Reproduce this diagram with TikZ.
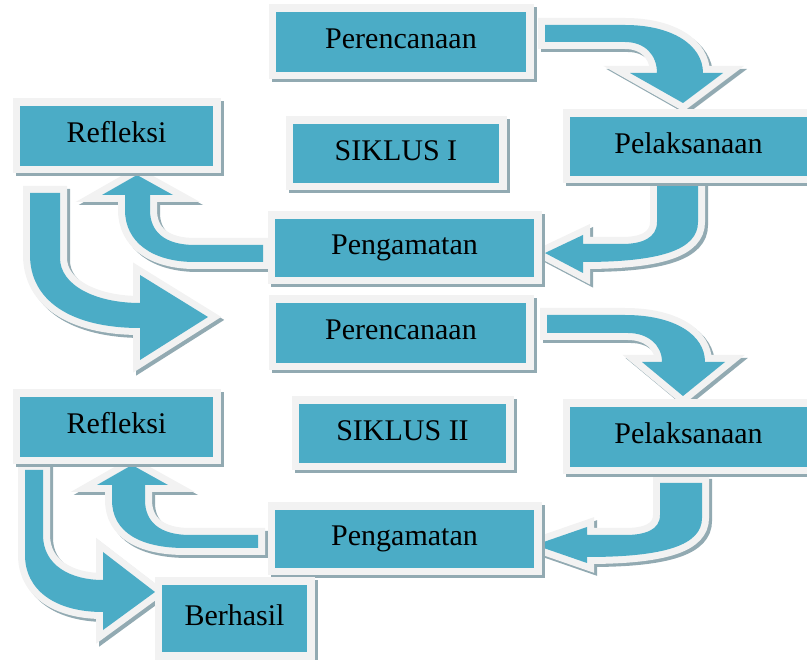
\documentclass[tikz,border=0pt]{standalone}
\usepackage{fontspec}
\setmainfont{Liberation Serif}
\usetikzlibrary{backgrounds}
\definecolor{boxblue}{RGB}{75,172,198}
\definecolor{framegray}{RGB}{242,242,242}
\definecolor{shadegray}{RGB}{146,170,178}
\tikzset{
  stepbox/.style={rectangle, draw=framegray, fill=boxblue, line width=7.5pt,
    inner sep=0pt, text height=20pt, text depth=6pt,
    font=\fontsize{30}{36}\selectfont,
    preaction={draw=shadegray, fill=shadegray, line width=7.5pt,
      transform canvas={xshift=3pt,yshift=-3pt}}},
  blockarrow/.style={line join=miter, miter limit=10,
    preaction={draw=shadegray, fill=shadegray, line width=14pt, line join=miter,
      transform canvas={xshift=3pt,yshift=-3pt}},
    preaction={draw=framegray, line width=14pt, line join=miter},
    fill=boxblue}
}
\begin{document}
\begin{tikzpicture}[x=1pt,y=-1pt]
\useasboundingbox (0,0) rectangle (807,660);
% boxes
\node[stepbox, minimum width=257.5pt, minimum height=67.5pt] (p1) at (401,42) {Perencanaan};
\node[stepbox, minimum width=244.5pt, minimum height=66.5pt] (l1) at (688.5,146.5) {Pelaksanaan};
\node[stepbox, minimum width=200.5pt, minimum height=67.5pt] (r1) at (116.5,136) {Refleksi};
\node[stepbox, minimum width=213.5pt, minimum height=66.5pt] (s1) at (396,153.5) {SIKLUS I};
\node[stepbox, minimum width=266.5pt, minimum height=65.5pt] (g1) at (404.5,248) {Pengamatan};
\node[stepbox, minimum width=257.5pt, minimum height=67.5pt] (p2) at (401,333) {Perencanaan};
\node[stepbox, minimum width=244.5pt, minimum height=67.5pt] (l2) at (688.5,437) {Pelaksanaan};
\node[stepbox, minimum width=200.5pt, minimum height=67.5pt] (r2) at (116.5,427) {Refleksi};
\node[stepbox, minimum width=214.5pt, minimum height=66.5pt] (s2) at (402.5,433.5) {SIKLUS II};
\node[stepbox, minimum width=266.5pt, minimum height=65.5pt] (g2) at (404.5,539) {Pengamatan};
\node[stepbox, minimum width=152.5pt, minimum height=74.5pt] (b) at (234.5,618.5) {Berhasil};
% block arrows
\begin{scope}[on background layer]
% Perencanaan I -> Pelaksanaan I
\path[blockarrow] (545,25) -- (625,25) .. controls (672,25) and (703,45) .. (703,73)
  -- (723,73) -- (683,103) -- (630,73) -- (657,73)
  .. controls (657,55) and (645,42) .. (625,42) -- (545,42) -- cycle;
% Pelaksanaan I -> Pengamatan I
\path[blockarrow] (657,183) -- (657,222) .. controls (657,238) and (642,244) .. (622,244)
  -- (583,244) -- (583,235) -- (545,253) -- (583,273) -- (583,262)
  .. controls (660,262) and (698,250) .. (698,222) -- (698,183) -- cycle;
% Pengamatan I -> Refleksi I
\path[blockarrow] (263,245) -- (195,245) .. controls (165,245) and (150,232) .. (150,210)
  -- (150,195) -- (173,195) -- (137,175) -- (102,195) -- (125,195) -- (125,210)
  .. controls (125,242) and (152,262) .. (195,262) -- (263,262) -- cycle;
% Refleksi I -> Perencanaan II
\path[blockarrow] (30,193) -- (60,193) -- (60,258) .. controls (60,285) and (95,303) .. (140,303)
  -- (140,275) -- (208,317) -- (140,360) -- (140,328)
  .. controls (70,328) and (30,300) .. (30,255) -- cycle;
% Perencanaan II -> Pelaksanaan II
\path[blockarrow] (547,315) -- (625,315) .. controls (675,315) and (705,335) .. (705,362)
  -- (725,362) -- (683,396) -- (642,362) -- (662,362)
  .. controls (662,345) and (648,333) .. (628,333) -- (547,333) -- cycle;
% Pelaksanaan II -> Pengamatan II
\path[blockarrow] (660,483) -- (660,515) .. controls (660,530) and (645,535) .. (625,535)
  -- (587,535) -- (587,527) -- (535,545) -- (587,563) -- (587,557)
  .. controls (665,557) and (702,545) .. (702,518) -- (702,483) -- cycle;
% Pengamatan II -> Refleksi II
\path[blockarrow] (258,535) -- (190,535) .. controls (160,535) and (145,522) .. (145,500)
  -- (145,485) -- (168,485) -- (132,465) -- (97,485) -- (112,485) -- (112,500)
  .. controls (112,532) and (140,548) .. (185,548) -- (258,548) -- cycle;
% Refleksi II -> Berhasil
\path[blockarrow] (25,470) -- (43,470) -- (43,535) .. controls (43,565) and (70,580) .. (103,580)
  -- (103,552) -- (155,592) -- (103,630) -- (103,612)
  .. controls (55,612) and (25,590) .. (25,555) -- cycle;
\end{scope}
\end{tikzpicture}
\end{document}
